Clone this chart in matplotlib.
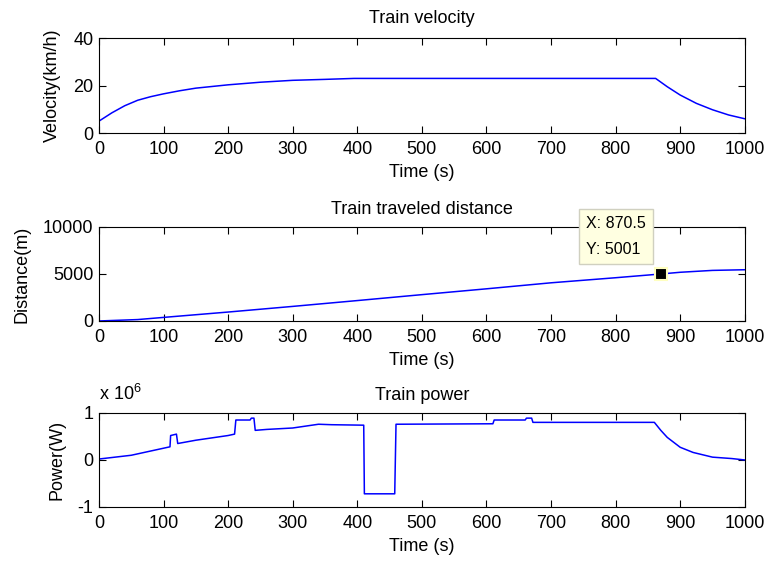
import matplotlib
matplotlib.use('Agg')
import matplotlib.pyplot as plt

plt.rcParams['font.family'] = ['Liberation Sans', 'DejaVu Sans']
plt.rcParams['font.size'] = 13
plt.rcParams['mathtext.default'] = 'regular'
plt.rcParams['axes.unicode_minus'] = False

# velocity (km/h)
vel_t = [0, 20, 40, 60, 80, 100, 125, 150, 175, 200, 250, 300, 350, 395, 862,
         880, 900, 925, 950, 975, 1000]
vel_v = [5, 8.5, 11.5, 13.8, 15.3, 16.5, 17.8, 18.9, 19.6, 20.3, 21.4, 22.2,
         22.6, 23, 23, 19.5, 16, 12.5, 9.8, 7.6, 6]

# distance (m)
dist_t = [0, 60, 100, 200, 300, 400, 500, 600, 700, 800, 870.5, 900, 950, 1000]
dist_d = [0, 150, 380, 950, 1550, 2170, 2800, 3420, 4060, 4600, 5001, 5180, 5380, 5450]

# power (x 1e6 W)
pow_t = [0, 50, 100, 110, 111, 120, 122, 150, 200, 210, 212, 234, 236, 240, 242,
         260, 300, 320, 340, 360, 410, 411, 458, 460, 610, 612, 660, 662, 670, 672,
         860, 870, 880, 900, 920, 950, 980, 1000]
pow_p = [0.02, 0.1, 0.25, 0.28, 0.52, 0.55, 0.35, 0.42, 0.52, 0.55, 0.85, 0.85,
         0.89, 0.89, 0.63, 0.65, 0.68, 0.72, 0.76, 0.75, 0.74, -0.72, -0.72, 0.76,
         0.77, 0.85, 0.85, 0.89, 0.89, 0.8, 0.8, 0.63, 0.48, 0.27, 0.16, 0.06, 0.03, 0.0]

tip_x, tip_y = 870.5, 5001
xticks = list(range(0, 1001, 100))

fig = plt.figure(figsize=(7.67, 5.65), dpi=100)
ax1 = fig.add_axes([0.129, 0.7646, 0.842, 0.168])
ax2 = fig.add_axes([0.129, 0.4319, 0.842, 0.1664])
ax3 = fig.add_axes([0.129, 0.1027, 0.842, 0.1664])

ax1.plot(vel_t, vel_v, color='#0000ff', lw=1.1)
ax1.set_ylim(0, 40)
ax1.set_yticks([0, 20, 40])
ax1.set_title('Train velocity', fontsize=13, pad=11)
ax1.set_ylabel('Velocity(km/h)', labelpad=9)

ax2.plot(dist_t, dist_d, color='#0000ff', lw=1.1)
ax2.set_ylim(0, 10000)
ax2.set_yticks([0, 5000, 10000])
ax2.set_title('Train traveled distance', fontsize=13, pad=9)
ax2.set_ylabel('Distance(m)', labelpad=9)
ax2.plot([tip_x], [tip_y], marker='s', ms=9, color='black', mec='#ffffc0', mew=1.5)
ax2.annotate('X: 870.5\nY: 5001', xy=(tip_x, tip_y), xytext=(-15, 17),
             textcoords='offset pixels', ha='right', va='bottom', fontsize=11.5,
             linespacing=1.9, multialignment='left',
             bbox=dict(boxstyle='square,pad=0.45', fc='#ffffe1', ec='#d0d0c0'))

ax3.plot(pow_t, pow_p, color='#0000ff', lw=1.1)
ax3.set_ylim(-1, 1)
ax3.set_yticks([-1, 0, 1])
ax3.set_title('Train power', fontsize=13, pad=9)
ax3.set_ylabel('Power(W)', labelpad=9)
ax3.text(0, 1.1, 'x 10$^{6}$', transform=ax3.transAxes, ha='left', va='bottom')

for ax in (ax1, ax2, ax3):
    ax.set_xlim(0, 1000)
    ax.set_xticks(xticks)
    ax.set_xlabel('Time (s)', labelpad=4)
    ax.tick_params(direction='in', top=True, right=True, length=5)
    ax.tick_params(axis='x', pad=6)
    ax.tick_params(axis='y', pad=4)

fig.savefig('out.png', dpi=100)
